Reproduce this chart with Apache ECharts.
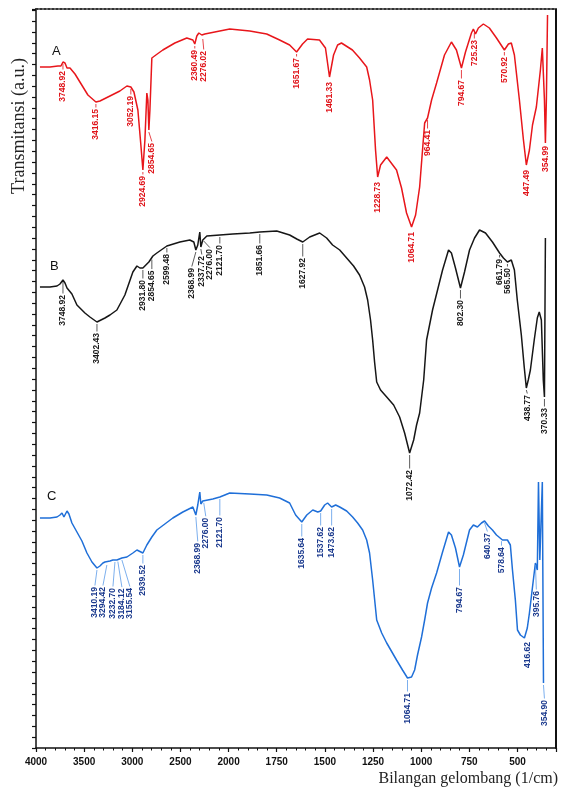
<!DOCTYPE html>
<html><head><meta charset="utf-8">
<script src="https://cdn.jsdelivr.net/npm/echarts@6/dist/echarts.min.js"></script>
<style>html,body{margin:0;padding:0;background:#fff}#c{width:566px;height:794px}</style>
</head><body><div id="c"></div>
<script>
// ---- tick labels (1/cm) ----
const xTickLabels = [4000, 3500, 3000, 2500, 2000, 1750, 1500, 1250, 1000, 750, 500];

// ---- spectrum A (red) ----
const wnA = [3959,3855,3772,3741,3720,3699,3678,3647,3595,3544,3461,3378,3336,3232,3129,3056,3015,2983,2942,2911,2890,2869,2849,2838,2828,2817,2797,2755,2683,2558,2434,2371,2351,2330,2309,2278,2268,2247,2143,1994,1890,1802,1735,1683,1647,1616,1590,1528,1497,1476,1455,1434,1414,1357,1320,1283,1268,1252,1237,1226,1211,1179,1128,1102,1076,1050,1029,1008,993,982,967,946,920,879,843,817,791,770,739,729,724,718,703,677,646,609,568,547,532,516,490,469,454,438,422,402,381,371,360,355,350,344];
const tA = [681,681,682,682,686,685,680,680,674,666,653,646,647,652,657,662,661,656,638,603,578,608,655,648,618,638,690,693,698,705,710,708,704,712,715,713,711,714,716,719,717,714,708,703,696,704,709,708,700,671,693,703,705,698,690,681,668,648,598,571,583,591,578,560,535,521,533,561,598,625,630,648,665,693,706,698,680,696,715,719,717,714,720,724,720,710,698,704,705,693,648,608,583,598,623,641,678,700,648,605,648,733];
const peaksA = ['3748.92','3416.15','3052.19','2924.69','2854.65','2360.49','2276.02','1651.67','1461.33','1228.73','1064.71','964.41','794.67','725.23','570.92','447.49','354.99'];

// ---- spectrum B (black) ----
const wnB = [3959,3855,3782,3751,3720,3699,3678,3627,3575,3492,3440,3367,3284,3232,3160,3077,2994,2952,2921,2890,2859,2828,2786,2745,2641,2506,2403,2361,2340,2320,2299,2288,2268,2226,2091,1978,1890,1838,1750,1683,1646,1615,1579,1527,1491,1460,1423,1387,1351,1320,1294,1278,1263,1252,1242,1231,1211,1179,1143,1112,1086,1060,1039,1024,1008,987,972,941,915,889,858,843,822,796,775,749,723,697,666,630,593,573,552,532,516,501,480,465,454,444,433,413,397,387,376,366,360,357,355];
const tB = [461,461,462,464,468,465,460,454,443,435,431,426,430,433,438,453,476,482,480,480,483,486,492,495,502,506,508,506,498,503,516,501,508,512,513,514,515,516,517,513,509,506,511,515,510,503,498,490,482,473,461,448,428,408,386,366,358,351,343,331,315,295,308,323,335,368,408,438,458,478,498,495,480,460,476,498,510,518,515,506,495,490,486,488,478,448,413,381,360,368,378,408,430,436,428,368,351,351,510];
const peaksB = ['3748.92','3402.43','2931.80','2854.65','2599.48','2368.99','2337.72','2276.00','2121.70','1851.66','1627.92','1072.42','802.30','661.79','565.50','438.77','370.33'];

// ---- spectrum C (blue) ----
const wnC = [3959,3855,3782,3751,3730,3710,3678,3658,3627,3575,3523,3471,3419,3367,3336,3305,3284,3264,3232,3201,3160,3108,3056,2994,2952,2932,2890,2849,2797,2745,2662,2579,2475,2371,2340,2320,2299,2288,2268,2164,2091,1994,1890,1802,1735,1683,1652,1620,1594,1563,1537,1522,1501,1486,1465,1444,1423,1387,1356,1330,1304,1283,1268,1252,1231,1205,1179,1128,1097,1071,1050,1034,1019,998,982,967,946,920,889,858,843,822,801,781,749,729,708,687,671,651,630,609,578,552,537,526,511,500,485,464,449,438,422,407,397,391,384,378,371,365];
const tC = [230,230,231,233,235,231,237,234,225,216,207,195,186,180,182,185,186,185,187,188,188,190,191,195,198,200,195,203,211,218,224,230,236,241,233,243,256,244,247,249,251,255,254,253,250,245,233,226,233,238,236,237,243,245,241,243,241,237,231,225,218,208,195,168,128,115,105,88,78,70,71,78,93,111,128,145,160,175,196,216,213,200,181,193,218,223,221,225,227,222,218,213,208,208,203,178,148,118,113,110,120,135,161,185,178,266,188,188,266,65];
const peaksC = ['3410.19','3294.42','3232.70','3184.12','3155.54','2939.52','2368.99','2276.00','2121.70','1635.64','1537.62','1473.62','1064.71','794.67','640.37','578.64','416.62','395.76','354.90'];

// ---- annotation layout: [curve wn, label wn, drop] per peak label ----
const layA = [[3720,3720,9],[3378,3378,7],[3015,3015,9],[2890,2890,6],[2828,2797,13],[2351,2351,6],[2268,2258,14],[1647,1647,6],[1476,1476,5],[1226,1226,5],[1050,1050,5],[967,967,12],[791,791,12],[724,724,9],[568,568,7],[454,454,5],[355,355,3]];
const layB = [[3720,3720,15],[3367,3367,11],[2890,2890,12],[2797,2797,13],[2641,2641,8],[2340,2382,18],[2288,2278,9],[2258,2195,10],[2091,2091,10],[1838,1838,13],[1615,1615,16],[1060,1060,17],[796,796,12],[593,593,6],[552,552,6],[454,449,7],[360,360,11]];
const layC = [[3367,3388,19],[3264,3305,24],[3180,3201,28],[3150,3108,29],[3108,3025,30],[2890,2890,12],[2340,2320,28],[2258,2237,17],[2091,2091,20],[1620,1620,16],[1522,1522,16],[1465,1465,20],[1071,1071,15],[801,801,20],[671,656,12],[583,583,8],[464,449,4],[407,402,28],[365,360,17]];

// split wavenumber scale: 500 per unit above 2000, 250 per unit below
const toPos = w => w >= 2000 ? (4000 - w) / 500 : 4 + (2000 - w) / 250;
const X_MAX = toPos(300);

function interp(wns, vals, w) {
  if (w >= wns[0]) return vals[0];
  for (let i = 0; i < wns.length - 1; i++) {
    if (w <= wns[i] && w >= wns[i + 1]) {
      const t = (wns[i] - w) / (wns[i] - wns[i + 1]);
      return vals[i] + t * (vals[i + 1] - vals[i]);
    }
  }
  return vals[vals.length - 1];
}

function annotations(wns, vals, texts, lay) {
  return texts.map((txt, i) => {
    const [cw, lw, drop] = lay[i];
    const cy = interp(wns, vals, cw);
    return { text: txt, cx: toPos(cw), cy: cy, lx: toPos(lw), ly: cy - drop };
  });
}

function lineSeries(wns, vals, color) {
  return {
    type: 'line', data: wns.map((w, i) => [toPos(w), vals[i]]),
    showSymbol: false, symbol: 'none', lineStyle: { color: color, width: 1.5 },
    animation: false, z: 3
  };
}

function labelSeries(ann, textColor, leadColor) {
  return {
    type: 'custom', animation: false, z: 4, clip: false,
    data: ann.map(a => [a.lx, a.ly]),
    renderItem: function (params, api) {
      const a = ann[params.dataIndex];
      const p0 = api.coord([a.cx, a.cy]);
      const p1 = api.coord([a.lx, a.ly]);
      const children = [];
      if (p1[1] - p0[1] > 5) {
        children.push({ type: 'line', shape: { x1: p0[0], y1: p0[1] + 2, x2: p1[0], y2: p1[1] - 1.5 },
          style: { stroke: leadColor, lineWidth: 0.8 } });
      }
      children.push({ type: 'text', x: p1[0], y: p1[1], rotation: Math.PI / 2,
        style: { text: a.text, fill: textColor, font: 'bold 8.5px "Liberation Sans", Arial, sans-serif',
          align: 'right', verticalAlign: 'middle', textAlign: 'right', textVerticalAlign: 'middle' } });
      return { type: 'group', children: children };
    }
  };
}

const RED = '#e8161b', BLACK = '#161616', BLUE = '#1f6fd8';
const chart = echarts.init(document.getElementById('c'), null, { renderer: 'canvas' });
const axisFont = { fontFamily: '"Liberation Sans", Arial, sans-serif', fontWeight: 'bold', fontSize: 10, color: '#111' };

chart.setOption({
  backgroundColor: '#fff',
  animation: false,
  grid: { left: 36, right: 10, top: 9, bottom: 46 },
  xAxis: [{
    type: 'value', min: 0, max: X_MAX, interval: 1, position: 'bottom',
    axisLine: { show: true, onZero: false, lineStyle: { color: '#111', width: 1.5 } },
    axisTick: { show: true, inside: false, length: 4, lineStyle: { color: '#111', width: 1.2 } },
    minorTick: { show: true, splitNumber: 5, length: 2.5, lineStyle: { color: '#111', width: 1 } },
    axisLabel: Object.assign({ margin: 9, showMaxLabel: false,
      formatter: v => (Math.abs(v - Math.round(v)) < 1e-6 && Math.round(v) < xTickLabels.length) ? String(xTickLabels[Math.round(v)]) : '' }, axisFont),
    splitLine: { show: false }, minorSplitLine: { show: false }
  }, {
    type: 'value', min: 0, max: X_MAX, position: 'top',
    axisLine: { show: true, onZero: false, lineStyle: { color: '#333', width: 2, type: 'dotted' } },
    axisTick: { show: false }, axisLabel: { show: false }, splitLine: { show: false }
  }],
  yAxis: [{
    type: 'value', min: 0, max: 739, interval: 10.85, position: 'left',
    axisLine: { show: true, onZero: false, lineStyle: { color: '#111', width: 1.5 } },
    axisTick: { show: true, inside: false, length: 4, lineStyle: { color: '#111', width: 1.2 } },
    axisLabel: { show: false }, splitLine: { show: false }
  }, {
    type: 'value', min: 0, max: 739, position: 'right',
    axisLine: { show: true, onZero: false, lineStyle: { color: '#111', width: 2 } },
    axisTick: { show: false }, axisLabel: { show: false }, splitLine: { show: false }
  }],
  series: [
    lineSeries(wnA, tA, RED),
    lineSeries(wnB, tB, BLACK),
    lineSeries(wnC, tC, BLUE),
    labelSeries(annotations(wnA, tA, peaksA, layA), '#e0141a', '#e0141a'),
    labelSeries(annotations(wnB, tB, peaksB, layB), '#1a1a1a', '#333'),
    labelSeries(annotations(wnC, tC, peaksC, layC), '#1b3a8e', '#5a9be8')
  ],
  graphic: [
    { type: 'text', left: 52, top: 45, style: { text: 'A', font: '13px "Liberation Sans", Arial, sans-serif', fill: '#111' } },
    { type: 'text', left: 50, top: 260, style: { text: 'B', font: '13px "Liberation Sans", Arial, sans-serif', fill: '#111' } },
    { type: 'text', left: 47, top: 490, style: { text: 'C', font: '13px "Liberation Sans", Arial, sans-serif', fill: '#111' } },
    { type: 'text', x: 19, y: 126, rotation: Math.PI / 2,
      style: { text: 'Transmitansi (a.u.)', font: '18px "Liberation Serif", "Times New Roman", serif', fill: '#222', align: 'center', verticalAlign: 'middle', textAlign: 'center', textVerticalAlign: 'middle' } },
    { type: 'text', x: 558, y: 779,
      style: { text: 'Bilangan gelombang (1/cm)', font: '16px "Liberation Serif", "Times New Roman", serif', fill: '#222', align: 'right', verticalAlign: 'middle', textAlign: 'right', textVerticalAlign: 'middle' } }
  ]
});
</script>
</body></html>
